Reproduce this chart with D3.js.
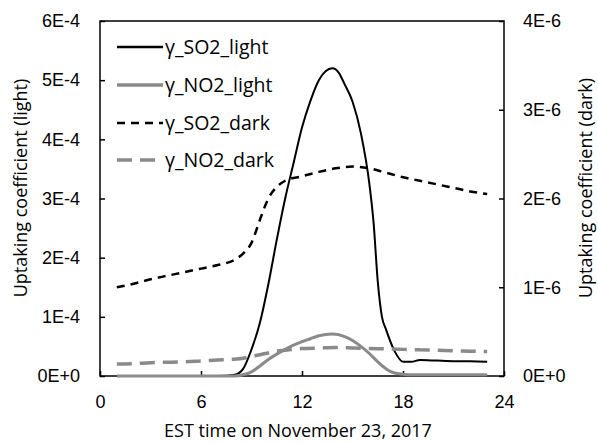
<!DOCTYPE html>
<html>
<head>
<meta charset="utf-8">
<style>
  body { margin: 0; background: #fff; }
  svg { font-family: "Open Sans", sans-serif; }
  .axis path, .axis line { stroke: #000; stroke-width: 1.5px; }
  .axis text { font-size: 18px; fill: #000; }
  .title { font-size: 18px; fill: #000; }
  .legend text { font-size: 19.5px; fill: #000; }
</style>
</head>
<body>
<svg id="chart" width="598" height="443"></svg>
<script src="https://cdn.jsdelivr.net/npm/d3@7"></script>
<script>
// hours and values
var hoursSO2Light = [1,2,3,4,5,6,7,8,8.5,9,9.5,10,10.5,11,11.5,12,12.5,13,13.4,13.8,14.2,14.5,15,15.5,16,16.25,16.5,16.75,17,17.5,18,18.5,19,20,21,22,23];
var so2Light = [0,0,0,0,0,0,0,0.02,0.12,0.45,0.9,1.55,2.3,3.0,3.6,4.2,4.65,5.0,5.15,5.2,5.12,4.95,4.64,4.1,3.25,2.6,1.6,1.0,0.78,0.42,0.24,0.24,0.27,0.26,0.25,0.25,0.24];   // x1E-4

var hoursNO2Light = [1,2,3,4,5,6,7,8,8.5,9,9.5,10,10.5,11,11.5,12,12.5,13,13.8,14.5,15,15.5,16,16.5,17,17.5,18,18.5,19,20,21,22,23];
var no2Light = [0,0,0,0,0,0,0,0,0.02,0.07,0.17,0.28,0.37,0.45,0.52,0.58,0.63,0.68,0.71,0.67,0.6,0.5,0.38,0.24,0.12,0.05,0.03,0.02,0.02,0.02,0.02,0.02,0.02]; // x1E-4

var hoursDark = [1,2,3,4,5,6,7,8,8.5,9,9.5,10,10.5,11,12,13,14,15,16,17,18,19,20,21,22,23];
var so2Dark = [1.0,1.04,1.09,1.13,1.17,1.21,1.25,1.31,1.38,1.5,1.76,2.0,2.13,2.2,2.25,2.3,2.34,2.36,2.34,2.29,2.24,2.2,2.16,2.12,2.08,2.05];   // x1E-6
var no2Dark = [0.135,0.14,0.15,0.155,0.16,0.17,0.18,0.19,0.2,0.22,0.24,0.26,0.28,0.29,0.31,0.315,0.32,0.315,0.31,0.305,0.3,0.295,0.29,0.285,0.28,0.275]; // x1E-6

var xTicks = [0, 6, 12, 18, 24];
var leftTicks = [0, 1, 2, 3, 4, 5, 6];
var rightTicks = [0, 1, 2, 3, 4];
var leftLabels = ["0E+0","1E-4","2E-4","3E-4","4E-4","5E-4","6E-4"];
var rightLabels = ["0E+0","1E-6","2E-6","3E-6","4E-6"];
var seriesNames = ["γ_SO2_light", "γ_NO2_light", "γ_SO2_dark", "γ_NO2_dark"];

var margin = {left: 100, top: 21, right: 94, bottom: 67};
var width = 598 - margin.left - margin.right,
    height = 443 - margin.top - margin.bottom;

var svg = d3.select("#chart");
var g = svg.append("g").attr("transform", "translate(" + margin.left + "," + margin.top + ")");

var x = d3.scaleLinear().domain([0, 24]).range([0, width]);
var yL = d3.scaleLinear().domain([0, 6]).range([height, 0]);
var yR = d3.scaleLinear().domain([0, 4]).range([height, 0]);

// frame
g.append("rect").attr("width", width).attr("height", height)
  .attr("fill", "none").attr("stroke", "#000").attr("stroke-width", 1.5);

g.append("g").attr("class", "axis")
  .attr("transform", "translate(0," + height + ")")
  .call(d3.axisBottom(x).tickValues(xTicks).tickSize(-5).tickPadding(19))
  .call(a => a.select(".domain").remove());

g.append("g").attr("class", "axis")
  .call(d3.axisLeft(yL).tickValues(leftTicks).tickSize(-5).tickPadding(20)
    .tickFormat((d, i) => leftLabels[i]))
  .call(a => a.select(".domain").remove());

g.append("g").attr("class", "axis")
  .attr("transform", "translate(" + width + ",0)")
  .call(d3.axisRight(yR).tickValues(rightTicks).tickSize(-5).tickPadding(19)
    .tickFormat((d, i) => rightLabels[i]))
  .call(a => a.select(".domain").remove());

function draw(hours, vals, yScale, color, w, dash) {
  var line = d3.line()
    .x((d, i) => x(hours[i]))
    .y(d => yScale(d))
    .curve(d3.curveMonotoneX);
  g.append("path").datum(vals)
    .attr("d", line)
    .attr("fill", "none")
    .attr("stroke", color)
    .attr("stroke-width", w)
    .attr("stroke-dasharray", dash);
}

var gray = "#8a8a8a";
draw(hoursSO2Light, so2Light, yL, "#000", 2, null);
draw(hoursNO2Light, no2Light, yL, gray, 3, null);
draw(hoursDark, so2Dark, yR, "#000", 2.5, "8,6");
draw(hoursDark, no2Dark, yR, gray, 3.5, "15,8");

// legend
var styles = [
  {c: "#000", w: 2.5, d: null},
  {c: gray, w: 3.5, d: null},
  {c: "#000", w: 2.5, d: "8,6"},
  {c: gray, w: 3.5, d: "15,8"}
];
var legendY = [47, 85, 123, 160];
var lg = svg.append("g").attr("class", "legend");
seriesNames.forEach(function(name, i) {
  lg.append("line")
    .attr("x1", 117).attr("x2", 163)
    .attr("y1", legendY[i]).attr("y2", legendY[i])
    .attr("stroke", styles[i].c).attr("stroke-width", styles[i].w)
    .attr("stroke-dasharray", styles[i].d);
  lg.append("text")
    .attr("x", 165).attr("y", legendY[i])
    .attr("dy", "0.35em")
    .text(name);
});

// axis titles
svg.append("text").attr("class", "title")
  .attr("x", 298).attr("y", 437)
  .attr("text-anchor", "middle")
  .text("EST time on November 23, 2017");

svg.append("text").attr("class", "title")
  .attr("transform", "translate(27,188) rotate(-90)")
  .attr("text-anchor", "middle")
  .text("Uptaking coefficient (light)");

svg.append("text").attr("class", "title")
  .attr("transform", "translate(592,188) rotate(-90)")
  .attr("text-anchor", "middle")
  .text("Uptaking coefficient (dark)");
</script>
</body>
</html>
